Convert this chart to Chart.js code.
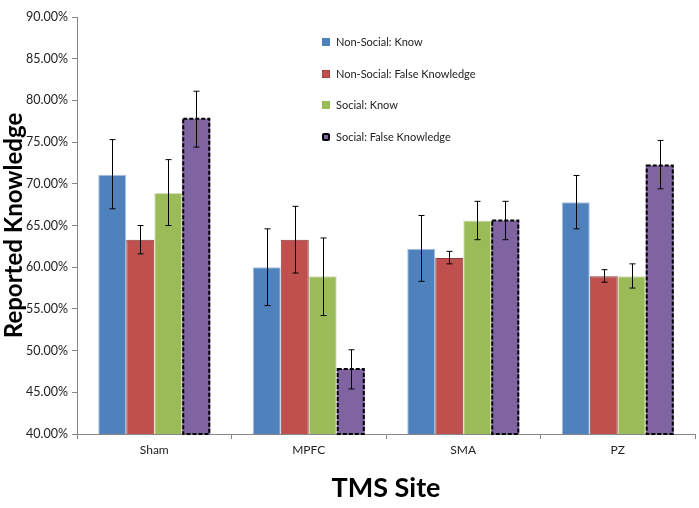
<!DOCTYPE html>
<html>
<head>
<meta charset="utf-8">
<script src="https://cdn.jsdelivr.net/npm/chart.js@4.4.0/dist/chart.umd.min.js"></script>
<style>
  body { margin: 0; background: #fff; }
  #wrap { position: relative; width: 699px; height: 508px; }
  #legend { position: absolute; left: 322px; top: 35px; font-family: Lato, sans-serif; font-size: 11px; color: #222; }
  .item { height: 31.5px; display: flex; align-items: flex-start; }
  .box { width: 8px; height: 8px; margin: 3px 6px 0 0; box-sizing: border-box; }
</style>
</head>
<body>
<div id="wrap">
  <canvas id="chart" width="699" height="508"></canvas>
  <div id="legend"></div>
</div>
<script>
const categories = ['Sham', 'MPFC', 'SMA', 'PZ'];
const seriesNames = ['Non-Social: Know', 'Non-Social: False Knowledge', 'Social: Know', 'Social: False Knowledge'];
const seriesColors = ['#4f81bd', '#c0504d', '#9bbb59', '#8064a2'];
const seriesBorders = ['#a9c0de', '#8e3a38', '#d2e0b8', '#000000'];

const nonSocialKnow = [71.1, 60.0, 62.2, 67.8];
const nonSocialFalse = [63.3, 63.3, 61.1, 58.9];
const socialKnow = [68.9, 58.9, 65.6, 58.9];
const socialFalse = [77.8, 47.8, 65.6, 72.2];

// error bar ends (low, high)
const nonSocialKnowLow = [67.0, 55.4, 58.3, 64.6];
const nonSocialKnowHigh = [75.3, 64.6, 66.2, 71.0];
const nonSocialFalseLow = [61.6, 59.3, 60.4, 58.2];
const nonSocialFalseHigh = [65.0, 67.3, 61.9, 59.7];
const socialKnowLow = [65.0, 54.2, 63.3, 57.5];
const socialKnowHigh = [72.9, 63.5, 67.9, 60.4];
const socialFalseLow = [74.4, 45.4, 63.3, 69.4];
const socialFalseHigh = [81.1, 50.1, 67.9, 75.2];

const yTicks = [40, 45, 50, 55, 60, 65, 70, 75, 80, 85, 90];

const values = [nonSocialKnow, nonSocialFalse, socialKnow, socialFalse];
const lows = [nonSocialKnowLow, nonSocialFalseLow, socialKnowLow, socialFalseLow];
const highs = [nonSocialKnowHigh, nonSocialFalseHigh, socialKnowHigh, socialFalseHigh];

const datasets = values.map((v, i) => ({
  label: seriesNames[i],
  data: v,
  backgroundColor: seriesColors[i],
  borderColor: seriesBorders[i],
  borderWidth: i === 3 ? 0 : 1,
  categoryPercentage: 0.725,
  barPercentage: 1.0
}));

// dashed outline for the last series, then error bars on top
const extras = {
  id: 'extras',
  afterDatasetsDraw(chart) {
    const ctx = chart.ctx;
    const y = chart.scales.y;
    const bottom = chart.chartArea.bottom;
    ctx.save();
    const meta3 = chart.getDatasetMeta(3);
    ctx.strokeStyle = '#000';
    ctx.lineWidth = 2;
    ctx.setLineDash([4, 2]);
    meta3.data.forEach(bar => {
      const base = Math.min(bar.base, bottom);
      ctx.strokeRect(bar.x - bar.width / 2 + 1, bar.y, bar.width - 2, base - bar.y);
    });
    ctx.setLineDash([]);
    ctx.lineWidth = 1;
    ctx.strokeStyle = '#000';
    for (let d = 0; d < values.length; d++) {
      const meta = chart.getDatasetMeta(d);
      meta.data.forEach((bar, j) => {
        const x = Math.round(bar.x) + 0.5;
        const y1 = y.getPixelForValue(lows[d][j]);
        const y2 = y.getPixelForValue(highs[d][j]);
        ctx.beginPath();
        ctx.moveTo(x, y1); ctx.lineTo(x, y2);
        ctx.moveTo(x - 3, y1); ctx.lineTo(x + 3, y1);
        ctx.moveTo(x - 3, y2); ctx.lineTo(x + 3, y2);
        ctx.stroke();
      });
    }
    ctx.restore();
  }
};

new Chart(document.getElementById('chart'), {
  type: 'bar',
  data: { labels: categories, datasets: datasets },
  options: {
    responsive: false,
    animation: false,
    layout: { padding: { top: 17, right: 4 } },
    plugins: { legend: { display: false }, tooltip: { enabled: false } },
    scales: {
      x: {
        grid: { display: true, drawOnChartArea: false, drawTicks: true, tickLength: 5, color: '#868686', offset: true },
        border: { color: '#868686' },
        ticks: { color: '#222', font: { family: 'Lato', size: 12 }, padding: 4 },
        title: { display: true, text: 'TMS Site', color: '#000', font: { family: 'Lato', size: 27, weight: 'bold' }, padding: { top: 15 } },
        afterFit(scale) { scale.height = 74; }
      },
      y: {
        min: 40, max: 90,
        afterBuildTicks(scale) { scale.ticks = yTicks.map(v => ({ value: v })); },
        grid: { display: true, drawOnChartArea: false, drawTicks: true, tickLength: 5, color: '#868686' },
        border: { color: '#868686' },
        ticks: { color: '#222', font: { family: 'Lato', size: 12.5 }, padding: 4, callback: v => v.toFixed(2) + '%' },
        title: { display: true, text: 'Reported Knowledge', color: '#000', font: { family: 'Lato', size: 24, weight: 'bold' }, padding: 0 },
        afterFit(scale) { scale.width = 77; }
      }
    }
  },
  plugins: [extras]
});

const legend = document.getElementById('legend');
seriesNames.forEach((name, i) => {
  const item = document.createElement('div');
  item.className = 'item';
  const box = document.createElement('span');
  box.className = 'box';
  box.style.background = seriesColors[i];
  if (i === 1) box.style.border = '1px dotted #8e3a38';
  if (i === 3) { box.style.border = '2px solid #000'; box.style.borderRadius = '2px'; }
  item.appendChild(box);
  item.appendChild(document.createTextNode(name));
  legend.appendChild(item);
});
</script>
</body>
</html>
